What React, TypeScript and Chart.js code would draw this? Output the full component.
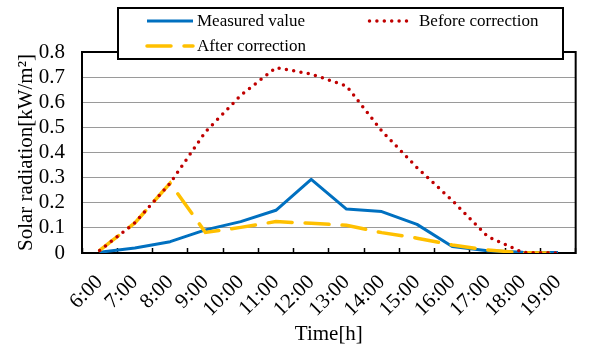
import React, { useEffect, useRef } from 'react';
import { Chart, registerables } from 'chart.js';

Chart.register(...registerables);

// ---- data ----
const timeLabels = ['6:00', '7:00', '8:00', '9:00', '10:00', '11:00', '12:00', '13:00', '14:00', '15:00', '16:00', '17:00', '18:00', '19:00'];
const measuredValues = [0.003, 0.02, 0.045, 0.092, 0.125, 0.17, 0.293, 0.175, 0.165, 0.114, 0.026, 0.009, 0.003, 0.002];
const beforeCorrectionValues = [0.01, 0.12, 0.278, 0.482, 0.627, 0.738, 0.712, 0.665, 0.486, 0.34, 0.209, 0.066, 0.002, 0.0];
const afterCorrectionValues = [0.01, 0.12, 0.278, 0.082, 0.102, 0.125, 0.118, 0.11, 0.081, 0.059, 0.032, 0.012, 0.001, 0.0];
const seriesNames = ['Measured value', 'Before correction', 'After correction'];
const yMin = 0;
const yMax = 0.8;
const yStep = 0.1;
const xTitle = 'Time[h]';
const yTitle = 'Solar radiation[kW/m\u00B2]';

const FONT = "'Liberation Serif', 'Times New Roman', serif";
const BLUE = '#0070C0';
const RED = '#C00000';
const GOLD = '#FFC000';

const framePlugin = {
  id: 'frame',
  beforeDatasetsDraw(chart: any) {
    const { ctx, chartArea: a } = chart;
    ctx.save();
    ctx.strokeStyle = '#000';
    ctx.lineWidth = 2;
    ctx.strokeRect(a.left, a.top, a.right - a.left, a.bottom - a.top);
    ctx.restore();
  },
};

const boxLegendPlugin = {
  id: 'boxLegend',
  afterDraw(chart: any) {
    const ctx = chart.ctx;
    ctx.save();
    ctx.fillStyle = '#fff';
    ctx.fillRect(118, 8, 445, 51);
    ctx.strokeStyle = '#000';
    ctx.lineWidth = 2;
    ctx.strokeRect(118, 8, 445, 51);
    const slots = [
      { x0: 147, x1: 193, tx: 197, y: 21 },
      { x0: 369.5, x1: 409.5, tx: 419, y: 21 },
      { x0: 147, x1: 193, tx: 197, y: 46 },
    ];
    chart.data.datasets.forEach((ds: any, i: number) => {
      const s = slots[i];
      ctx.save();
      ctx.strokeStyle = ds.borderColor;
      ctx.lineWidth = ds.borderWidth;
      ctx.lineCap = ds.borderCapStyle || 'butt';
      ctx.setLineDash(ds.borderDash || []);
      ctx.beginPath();
      ctx.moveTo(s.x0, s.y);
      ctx.lineTo(s.x1, s.y);
      ctx.stroke();
      ctx.restore();
      ctx.fillStyle = '#000';
      ctx.font = `17px ${FONT}`;
      ctx.textAlign = 'left';
      ctx.textBaseline = 'middle';
      ctx.fillText(ds.label, s.tx, s.y + 1);
    });
    ctx.restore();
  },
};

export default function App() {
  const canvasRef = useRef<HTMLCanvasElement | null>(null);

  useEffect(() => {
    document.body.style.margin = '0';
    const canvas = canvasRef.current;
    if (!canvas) return;
    const chart = new Chart(canvas, {
      type: 'line',
      data: {
        labels: timeLabels,
        datasets: [
          {
            label: seriesNames[0],
            data: measuredValues,
            borderColor: BLUE,
            backgroundColor: BLUE,
            borderWidth: 3,
            pointRadius: 0,
            tension: 0,
            borderJoinStyle: 'round',
            order: 3,
          },
          {
            label: seriesNames[1],
            data: beforeCorrectionValues,
            borderColor: RED,
            backgroundColor: RED,
            borderWidth: 3.5,
            borderDash: [0, 7.4],
            borderCapStyle: 'round',
            pointRadius: 0,
            tension: 0,
            order: 1,
          },
          {
            label: seriesNames[2],
            data: afterCorrectionValues,
            borderColor: GOLD,
            backgroundColor: GOLD,
            borderWidth: 3.5,
            borderDash: [24, 13],
            borderCapStyle: 'round',
            pointRadius: 0,
            tension: 0,
            order: 2,
          },
        ],
      },
      options: {
        responsive: false,
        animation: false,
        devicePixelRatio: 1,
        layout: { padding: { top: 52, right: 4, bottom: 0, left: 0 } },
        plugins: {
          legend: { display: false },
          tooltip: { enabled: false },
          title: { display: false },
        },
        scales: {
          x: {
            type: 'category',
            offset: true,
            grid: {
              display: true,
              offset: true,
              drawOnChartArea: false,
              drawTicks: true,
              tickLength: -5,
              tickColor: '#000',
              tickWidth: 1.5,
              color: '#000',
            },
            border: { display: true, color: '#000', width: 2 },
            ticks: {
              autoSkip: false,
              minRotation: 45,
              maxRotation: 45,
              padding: 22,
              color: '#000',
              font: { family: FONT, size: 21 },
            },
            title: {
              display: true,
              text: xTitle,
              color: '#000',
              font: { family: FONT, size: 21, lineHeight: 1 },
              padding: { top: 0, bottom: 0 },
            },
            afterFit(scale: any) {
              scale.height = 92;
            },
          },
          y: {
            min: yMin,
            max: yMax,
            grid: {
              display: true,
              drawTicks: false,
              color: '#9a9a9a',
              lineWidth: 1,
            },
            border: { display: true, color: '#000', width: 2 },
            ticks: {
              stepSize: yStep,
              autoSkip: false,
              padding: 17,
              color: '#000',
              font: { family: FONT, size: 21 },
              callback: (v: any) => (Number(v) === 0 ? '0' : Number(v).toFixed(1)),
            },
            title: {
              display: true,
              text: yTitle,
              color: '#000',
              font: { family: FONT, size: 21, lineHeight: 1 },
              padding: { top: 16, bottom: 0 },
            },
            afterFit(scale: any) {
              scale.width = 82;
            },
          },
        },
      },
      plugins: [framePlugin, boxLegendPlugin],
    });
    return () => chart.destroy();
  }, []);

  return (
    <div style={{ width: 598, height: 345 }}>
      <canvas ref={canvasRef} width={598} height={345} style={{ display: 'block' }} />
    </div>
  );
}
